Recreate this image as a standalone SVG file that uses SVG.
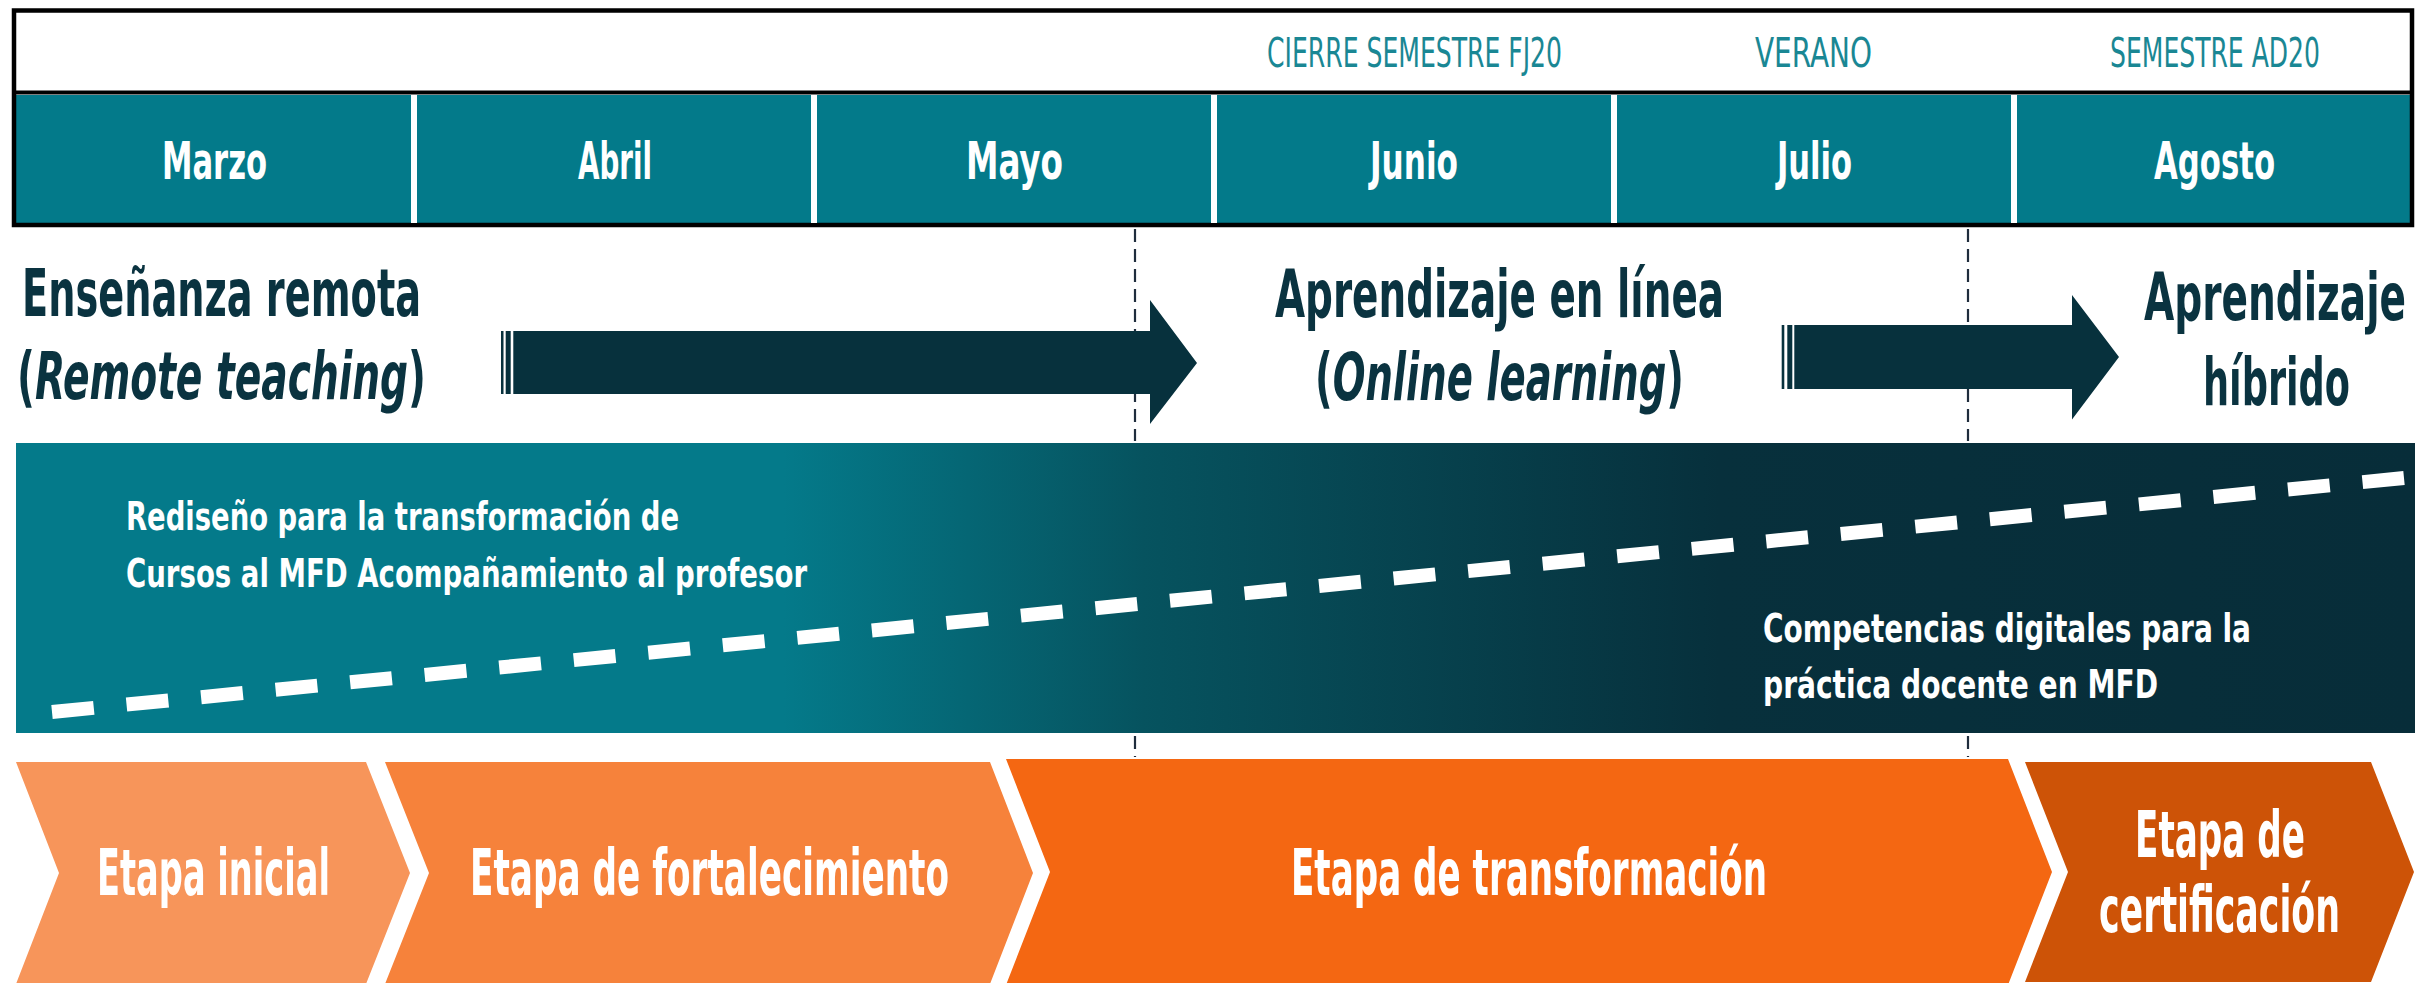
<svg xmlns="http://www.w3.org/2000/svg" width="2415" height="983" viewBox="0 0 2415 983">
<style>
  text { font-family: "Liberation Sans Narrow", "DejaVu Sans Condensed", "Liberation Sans", sans-serif; }
  .month { font-weight: bold; font-size: 51px; fill: #ffffff; }
  .head { font-weight: normal; font-size: 41px; fill: #1a8794; }
  .big { font-weight: bold; font-size: 65px; fill: #0a3340; }
  .band { font-weight: bold; font-size: 39px; fill: #ffffff; }
  .stage { font-weight: bold; font-size: 64px; fill: #ffffff; }
  .arrow { fill: #07313d; }
  .vdash { stroke: #1f2d3d; stroke-width: 2.2; stroke-dasharray: 13 7; fill: none; }
  .sep { stroke: #ffffff; stroke-width: 6; }
</style>
<defs>
  <linearGradient id="bandGrad" x1="16" y1="0" x2="2415" y2="0" gradientUnits="userSpaceOnUse">
    <stop offset="0" stop-color="#047a8a"/>
    <stop offset="0.32" stop-color="#047a8a"/>
    <stop offset="0.47" stop-color="#06535f"/>
    <stop offset="0.71" stop-color="#07303c"/>
    <stop offset="1" stop-color="#072d39"/>
  </linearGradient>
</defs>
<rect x="0" y="0" width="2415" height="983" fill="#ffffff"/>

<g id="timeline-header">
  <rect x="14" y="95" width="2398" height="128" fill="#037a8a"/>
  <rect x="14" y="10.5" width="2398" height="214.5" fill="none" stroke="#000000" stroke-width="4.5"/>
  <line x1="14" y1="92.5" x2="2412" y2="92.5" stroke="#000000" stroke-width="4"/>
  <line class="sep" x1="414" y1="95" x2="414" y2="223"/>
  <line class="sep" x1="814" y1="95" x2="814" y2="223"/>
  <line class="sep" x1="1214" y1="95" x2="1214" y2="223"/>
  <line class="sep" x1="1614" y1="95" x2="1614" y2="223"/>
  <line class="sep" x1="2014" y1="95" x2="2014" y2="223"/>
  <text class="head" x="1267" y="67" textLength="295" lengthAdjust="spacingAndGlyphs">CIERRE SEMESTRE FJ20</text>
  <text class="head" x="1755" y="67" textLength="117" lengthAdjust="spacingAndGlyphs">VERANO</text>
  <text class="head" x="2110" y="67" textLength="210" lengthAdjust="spacingAndGlyphs">SEMESTRE AD20</text>
  <text class="month" x="162" y="179" textLength="105" lengthAdjust="spacingAndGlyphs">Marzo</text>
  <text class="month" x="578" y="179" textLength="74" lengthAdjust="spacingAndGlyphs">Abril</text>
  <text class="month" x="966" y="179" textLength="97" lengthAdjust="spacingAndGlyphs">Mayo</text>
  <text class="month" x="1370" y="179" textLength="88" lengthAdjust="spacingAndGlyphs">Junio</text>
  <text class="month" x="1777" y="179" textLength="75" lengthAdjust="spacingAndGlyphs">Julio</text>
  <text class="month" x="2154" y="179" textLength="121" lengthAdjust="spacingAndGlyphs">Agosto</text>
</g>

<g id="connectors">
  <line class="vdash" x1="1135" y1="229" x2="1135" y2="441"/>
  <line class="vdash" x1="1135" y1="736" x2="1135" y2="757"/>
  <line class="vdash" x1="1968" y1="229" x2="1968" y2="441"/>
  <line class="vdash" x1="1968" y1="736" x2="1968" y2="757"/>
  <g id="arrow-1" class="arrow">
    <rect x="501" y="331" width="2.5" height="63"/>
    <rect x="505.7" y="331" width="5" height="63"/>
    <polygon points="513.3,331 1150,331 1150,300 1197,363 1150,424 1150,394 513.3,394"/>
  </g>
  <g id="arrow-2" class="arrow">
    <rect x="1781.7" y="325" width="2.6" height="64"/>
    <rect x="1787.3" y="325" width="5" height="64"/>
    <polygon points="1794.3,325 2072,325 2072,295 2119,357 2072,419.5 2072,389 1794.3,389"/>
  </g>
</g>

<g id="mode-remote">
  <text class="big" x="22" y="316" textLength="399" lengthAdjust="spacingAndGlyphs">Enseñanza remota</text>
  <text class="big" x="17" y="399" textLength="409" lengthAdjust="spacingAndGlyphs">(<tspan font-style="italic">Remote teaching</tspan>)</text>
</g>

<g id="mode-online">
  <text class="big" x="1275" y="317" textLength="449" lengthAdjust="spacingAndGlyphs">Aprendizaje en línea</text>
  <text class="big" x="1315" y="400" textLength="369" lengthAdjust="spacingAndGlyphs">(<tspan font-style="italic">Online learning</tspan>)</text>
</g>

<g id="mode-hybrid">
  <text class="big" x="2144" y="320" textLength="262" lengthAdjust="spacingAndGlyphs">Aprendizaje</text>
  <text class="big" x="2203" y="405" textLength="147" lengthAdjust="spacingAndGlyphs">híbrido</text>
</g>

<g id="band">
  <rect x="16" y="443" width="2399" height="290" fill="url(#bandGrad)"/>
  <line x1="52" y1="712" x2="2404" y2="478" stroke="#ffffff" stroke-width="14" stroke-dasharray="42 32.9"/>
  <text class="band" x="126" y="530" textLength="553" lengthAdjust="spacingAndGlyphs">Rediseño para la transformación de</text>
  <text class="band" x="126" y="587" textLength="681" lengthAdjust="spacingAndGlyphs">Cursos al MFD Acompañamiento al profesor</text>
  <text class="band" x="1763" y="642" textLength="488" lengthAdjust="spacingAndGlyphs">Competencias digitales para la</text>
  <text class="band" x="1763" y="698" textLength="395" lengthAdjust="spacingAndGlyphs">práctica docente en MFD</text>
</g>

<g id="stage-inicial">
  <polygon points="16,762 366,762 410,873 366,984 16,984 59,873" fill="#f7955a"/>
  <text class="stage" x="97" y="895" textLength="233" lengthAdjust="spacingAndGlyphs">Etapa inicial</text>
</g>
<g id="stage-fortalecimiento">
  <polygon points="385,762 990,762 1033,873 990,984 385,984 429,873" fill="#f6823b"/>
  <text class="stage" x="470" y="895" textLength="479" lengthAdjust="spacingAndGlyphs">Etapa de fortalecimiento</text>
</g>
<g id="stage-transformacion">
  <polygon points="1006,759 2008,759 2052,872 2008,985 1006,985 1050,872" fill="#f46712"/>
  <text class="stage" x="1291" y="895" textLength="476" lengthAdjust="spacingAndGlyphs">Etapa de transformación</text>
</g>
<g id="stage-certificacion">
  <polygon points="2025,762 2371,762 2414,872 2371,982 2025,982 2068,872" fill="#cd5307"/>
  <text class="stage" x="2135" y="857" font-size="61" textLength="170" lengthAdjust="spacingAndGlyphs">Etapa de</text>
  <text class="stage" x="2099" y="932" font-size="61" textLength="241" lengthAdjust="spacingAndGlyphs">certificación</text>
</g>
</svg>
